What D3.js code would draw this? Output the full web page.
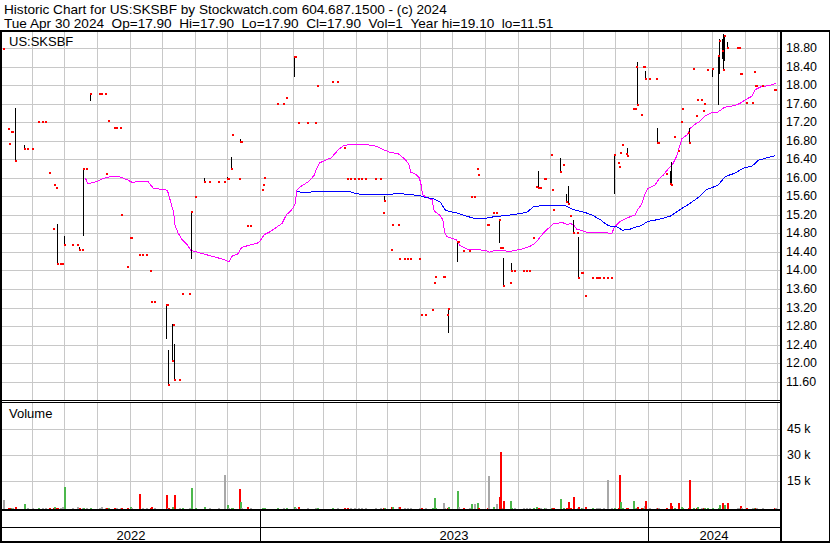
<!DOCTYPE html>
<html><head><meta charset="utf-8">
<script src="https://cdn.jsdelivr.net/npm/d3@7"></script>
<style>
body{margin:0;background:#fff}
svg{display:block;font-family:"Liberation Sans",Arial,sans-serif}
</style>
</head><body>
<svg id="chart" width="830" height="543"></svg>
<script>
const titleLine1 = "Historic Chart for US:SKSBF by Stockwatch.com 604.687.1500 - (c) 2024";
const titleLine2 = "Tue Apr 30 2024  Op=17.90  Hi=17.90  Lo=17.90  Cl=17.90  Vol=1  Year hi=19.10  lo=11.51";
const symbolLabel = "US:SKSBF";
const volumeLabel = "Volume";
const priceTicks = [11.60,12.00,12.40,12.80,13.20,13.60,14.00,14.40,14.80,15.20,15.60,16.00,16.40,16.80,17.20,17.60,18.00,18.40,18.80];
const volumeTicks = [15000,30000,45000];
const volumeTickLabels = ["15 k","30 k","45 k"];
const yearLabels = ["2022","2023","2024"];

// daily trades: date, close, volume
const dates = [
"2022-05-04","2022-05-09","2022-05-10","2022-05-12","2022-05-13","2022-05-16","2022-05-24","2022-05-27","2022-06-01","2022-06-06",
"2022-06-10","2022-06-13","2022-06-17","2022-06-20","2022-06-21","2022-06-23","2022-06-24","2022-06-27","2022-06-29","2022-07-01",
"2022-07-08","2022-07-13","2022-07-15","2022-07-18","2022-07-19","2022-07-21","2022-07-25","2022-08-03","2022-08-05","2022-08-08",
"2022-08-09","2022-08-11","2022-08-17","2022-08-19","2022-08-22","2022-08-23","2022-08-29","2022-09-01","2022-09-02","2022-09-09",
"2022-09-12","2022-09-16","2022-09-20","2022-09-21","2022-09-23","2022-10-05","2022-10-06","2022-10-07","2022-10-10","2022-10-11",
"2022-10-12","2022-10-17","2022-10-20","2022-10-26","2022-10-28","2022-11-01","2022-11-09","2022-11-14","2022-11-23","2022-11-28",
"2022-12-01","2022-12-02","2022-12-05","2022-12-06","2022-12-12","2022-12-13","2022-12-14","2022-12-20","2022-12-23","2023-01-03",
"2023-01-04","2023-01-05","2023-01-17","2023-01-23","2023-01-26","2023-02-02","2023-02-03","2023-02-06","2023-02-14","2023-02-22",
"2023-02-24","2023-03-10","2023-03-15","2023-03-21","2023-03-24","2023-03-27","2023-03-31","2023-04-03","2023-04-06","2023-04-10",
"2023-04-19","2023-04-24","2023-04-27","2023-04-28","2023-05-04","2023-05-05","2023-05-11","2023-05-12","2023-05-17","2023-05-19",
"2023-05-22","2023-05-31","2023-06-02","2023-06-05","2023-06-12","2023-06-14","2023-06-15","2023-06-22","2023-06-23","2023-06-26",
"2023-06-27","2023-07-05","2023-07-06","2023-07-11","2023-07-17","2023-07-19","2023-07-21","2023-07-24","2023-07-25","2023-08-03",
"2023-08-04","2023-08-08","2023-08-11","2023-08-14","2023-08-15","2023-08-17","2023-08-18","2023-08-24","2023-08-25","2023-08-28",
"2023-09-06","2023-09-08","2023-09-11","2023-09-15","2023-09-18","2023-09-20","2023-09-22","2023-09-25","2023-09-26","2023-10-02",
"2023-10-03","2023-10-04","2023-10-10","2023-10-13","2023-10-16","2023-10-18","2023-10-20","2023-10-23","2023-10-26","2023-10-27",
"2023-10-30","2023-10-31","2023-11-03","2023-11-09","2023-11-13","2023-11-15","2023-11-16","2023-11-20","2023-11-24","2023-11-27",
"2023-11-30","2023-12-04","2023-12-05","2023-12-06","2023-12-08","2023-12-11","2023-12-12","2023-12-18","2023-12-20","2023-12-21",
"2023-12-22","2023-12-26","2023-12-27","2023-12-28","2023-12-29","2024-01-02","2024-01-09","2024-01-10","2024-01-11","2024-01-18",
"2024-01-22","2024-01-23","2024-01-26","2024-01-29","2024-02-01","2024-02-02","2024-02-08","2024-02-09","2024-02-12","2024-02-15",
"2024-02-16","2024-02-20","2024-02-22","2024-02-23","2024-02-26","2024-03-01","2024-03-07","2024-03-08","2024-03-11","2024-03-12",
"2024-03-13","2024-03-15","2024-03-25","2024-03-27","2024-03-28","2024-03-29","2024-04-02","2024-04-08","2024-04-10","2024-04-11",
"2024-04-12","2024-04-17","2024-04-29","2024-04-30"];
const closes = [
18.77,17.05,16.73,16.99,16.99,16.37,16.63,16.63,16.63,17.20,
17.20,17.20,16.10,14.90,15.84,15.77,14.15,14.15,14.15,14.55,
14.55,14.55,14.44,14.44,16.19,16.19,17.81,17.81,17.81,17.81,
16.08,17.23,17.07,17.07,17.07,15.20,14.08,14.70,14.70,14.34,
14.34,14.34,13.99,13.33,13.33,13.26,13.26,11.52,12.05,12.82,
11.64,11.64,13.49,13.49,15.26,15.59,15.91,15.91,15.91,15.91,
15.97,15.97,16.19,16.92,15.97,16.77,16.77,14.96,14.96,15.74,
15.84,15.99,17.59,17.59,17.72,18.61,18.61,17.18,17.18,17.18,
17.98,18.07,18.07,16.64,15.97,15.97,15.97,15.97,15.97,15.97,
15.97,15.97,15.24,15.50,14.44,14.98,14.98,14.25,14.25,14.25,
14.25,14.25,13.04,13.04,13.15,13.73,13.85,13.85,13.85,13.04,
13.17,14.61,14.61,14.42,14.42,15.59,15.59,16.19,16.06,14.99,
14.99,15.24,15.24,15.09,14.49,14.49,13.67,13.73,13.99,13.99,
13.99,13.99,13.99,14.70,15.80,15.78,15.78,15.97,15.97,16.49,
15.74,15.30,16.12,16.28,15.48,15.43,15.18,14.81,14.81,13.84,
13.95,13.95,13.45,13.84,13.84,13.84,13.84,13.84,13.84,13.84,
16.49,16.32,16.23,16.53,16.71,16.52,16.48,17.48,17.48,18.38,
17.56,17.36,18.39,18.39,18.13,18.13,18.13,16.75,16.75,16.09,
15.87,15.84,16.88,16.58,17.20,17.48,16.97,16.75,18.35,17.33,
17.68,17.68,17.44,17.59,18.33,18.35,18.63,18.96,18.73,18.33,
19.05,18.79,18.79,18.79,18.24,18.24,17.62,17.62,18.29,17.97,
17.97,17.97,17.90,17.90];
const volumes = [
4500,100,100,100,100,400,2400,100,100,100,
100,100,200,100,600,300,100,100,600,12300,
100,600,100,100,300,100,100,100,600,100,
200,200,100,100,100,200,200,400,100,8200,
100,100,200,600,100,7600,100,100,400,600,
7600,100,200,100,11700,200,600,100,100,19200,
1800,200,200,200,11100,3500,100,600,100,100,
100,100,100,100,100,400,100,600,100,100,
100,100,100,200,100,100,100,100,100,100,
100,100,100,100,600,400,600,600,100,100,
100,100,100,100,200,5900,200,3000,100,200,
600,9900,400,200,100,2300,2300,3000,100,200,
18700,600,2300,6500,32600,100,4100,4100,100,100,
100,100,100,200,600,200,100,100,100,100,
200,200,5300,200,200,3500,100,6500,100,800,
100,100,600,100,100,100,100,100,16300,100,
200,100,19200,3500,100,100,200,4100,100,100,
400,200,100,1500,4100,100,100,100,100,200,
3000,1100,200,3000,600,100,100,16300,100,200,
600,100,200,100,100,200,100,2000,3000,100,
2000,3000,100,100,1100,100,100,100,100,100,
100,100,100,1];

// days with a high-low range
const rangeDates = ["2022-05-16","2022-05-24","2022-06-24","2022-07-01","2022-07-15","2022-07-19","2022-07-25","2022-10-05","2022-10-07","2022-10-10",
"2022-10-12","2022-10-28","2022-11-09","2022-12-01","2022-12-05","2022-12-13","2023-02-02","2023-04-28","2023-06-27","2023-07-05",
"2023-08-14","2023-08-18","2023-08-25","2023-09-20","2023-10-10","2023-10-16","2023-10-18","2023-10-23","2023-10-27","2023-11-30",
"2023-12-06","2023-12-12","2023-12-22","2023-12-29","2024-01-10","2024-01-22","2024-01-23","2024-02-09","2024-03-01","2024-03-07",
"2024-03-08","2024-03-11","2024-03-12","2024-03-13","2024-03-15"];
const rangeHighs = [17.50,16.70,15.00,14.74,14.50,16.20,17.82,13.28,12.28,12.84,
12.41,15.27,15.99,16.01,16.45,16.83,18.62,15.61,13.18,14.64,
15.10,14.26,14.16,16.15,16.42,15.65,15.82,15.09,14.72,16.51,
16.55,16.64,18.49,18.30,17.07,16.14,16.35,17.07,18.36,18.63,
19.00,18.99,19.10,19.06,18.92];
const rangeLows = [16.37,16.63,14.15,14.55,14.44,14.75,17.66,12.53,11.51,12.05,
11.64,14.25,15.91,15.97,16.19,16.77,18.18,15.50,12.66,14.19,
14.60,13.67,13.99,15.78,16.12,15.47,15.43,14.81,13.83,15.66,
16.52,16.48,17.56,18.13,16.75,15.87,15.84,16.75,18.18,17.57,
18.24,18.57,18.34,18.51,18.79];

// short moving average (magenta)
const maShortDates = ["2022-07-21","2022-07-23","2022-07-27","2022-08-01","2022-08-07","2022-08-15","2022-08-22","2022-08-29","2022-09-03","2022-09-12",
"2022-09-18","2022-09-23","2022-10-01","2022-10-06","2022-10-09","2022-10-12","2022-10-13","2022-10-16","2022-10-20","2022-10-25",
"2022-10-28","2022-11-01","2022-11-10","2022-11-20","2022-11-29","2022-12-03","2022-12-06","2022-12-11","2022-12-15","2022-12-23",
"2022-12-31","2023-01-05","2023-01-10","2023-01-16","2023-01-22","2023-01-26","2023-01-31","2023-02-03","2023-02-05","2023-02-09",
"2023-02-16","2023-02-21","2023-02-23","2023-02-26","2023-03-04","2023-03-09","2023-03-13","2023-03-16","2023-03-21","2023-03-30",
"2023-04-13","2023-04-21","2023-04-27","2023-05-03","2023-05-11","2023-05-17","2023-05-21","2023-05-23","2023-05-28","2023-05-31",
"2023-06-02","2023-06-03","2023-06-07","2023-06-12","2023-06-14","2023-06-19","2023-06-22","2023-06-24","2023-06-26","2023-07-05",
"2023-07-08","2023-07-15","2023-07-24","2023-08-02","2023-08-05","2023-08-09","2023-08-18","2023-08-23","2023-08-29","2023-09-06",
"2023-09-12","2023-09-17","2023-09-21","2023-09-26","2023-09-30","2023-10-04","2023-10-07","2023-10-13","2023-10-17","2023-10-20",
"2023-10-23","2023-10-26","2023-10-30","2023-11-03","2023-11-19","2023-11-28","2023-12-01","2023-12-06","2023-12-12","2023-12-20",
"2023-12-23","2023-12-26","2023-12-29","2024-01-01","2024-01-08","2024-01-11","2024-01-16","2024-01-19","2024-01-24","2024-01-28",
"2024-02-02","2024-02-07","2024-02-10","2024-02-14","2024-02-19","2024-02-24","2024-03-01","2024-03-07","2024-03-13","2024-03-23",
"2024-03-28","2024-04-03","2024-04-08","2024-04-11","2024-04-17","2024-04-25","2024-04-30"];
const maShortValues = [15.99,15.87,15.89,15.92,15.99,16.03,16.02,15.96,15.90,15.93,
15.91,15.77,15.75,15.73,15.49,15.24,14.99,14.81,14.66,14.55,
14.43,14.41,14.35,14.29,14.23,14.18,14.31,14.35,14.50,14.55,
14.60,14.77,14.83,14.92,15.02,15.20,15.31,15.42,15.74,15.82,
15.92,16.05,16.18,16.32,16.38,16.43,16.53,16.61,16.70,16.72,
16.71,16.68,16.61,16.55,16.52,16.41,16.30,16.12,16.07,16.00,
15.82,15.64,15.57,15.53,15.28,15.20,15.10,14.81,14.73,14.66,
14.54,14.46,14.45,14.43,14.39,14.43,14.43,14.41,14.43,14.47,
14.52,14.59,14.70,14.84,14.92,15.01,15.02,15.03,14.99,15.01,
14.99,14.89,14.87,14.83,14.82,14.80,14.95,15.06,15.13,15.20,
15.33,15.42,15.64,15.77,15.85,15.96,16.07,16.16,16.28,16.46,
16.84,16.93,17.07,17.15,17.22,17.34,17.40,17.42,17.52,17.56,
17.61,17.70,17.76,17.90,17.97,17.99,18.04];

// long moving average (blue)
const maLongDates = ["2023-02-05","2023-02-09","2023-02-16","2023-03-03","2023-03-25","2023-04-01","2023-04-07","2023-05-03","2023-05-10","2023-05-22",
"2023-06-01","2023-06-07","2023-06-13","2023-06-20","2023-06-24","2023-06-29","2023-07-07","2023-07-13","2023-07-21","2023-08-02",
"2023-08-12","2023-08-20","2023-08-31","2023-09-09","2023-09-15","2023-09-25","2023-10-07","2023-10-15","2023-10-23","2023-10-29",
"2023-11-03","2023-11-09","2023-11-17","2023-11-23","2023-11-28","2023-12-03","2023-12-08","2023-12-14","2023-12-20","2023-12-26",
"2024-01-01","2024-01-11","2024-01-22","2024-01-31","2024-02-05","2024-02-11","2024-02-19","2024-02-25","2024-03-07","2024-03-14",
"2024-03-23","2024-03-31","2024-04-08","2024-04-14","2024-04-22","2024-04-30"];
const maLongValues = [15.70,15.69,15.69,15.71,15.71,15.66,15.64,15.64,15.66,15.64,
15.61,15.57,15.55,15.47,15.31,15.27,15.23,15.18,15.13,15.13,
15.17,15.18,15.22,15.25,15.37,15.41,15.41,15.40,15.31,15.28,
15.25,15.20,15.10,14.99,14.94,14.94,14.87,14.88,14.93,14.97,
15.06,15.10,15.17,15.31,15.38,15.47,15.60,15.74,15.84,16.03,
16.10,16.21,16.25,16.38,16.43,16.48];

const parse = d3.timeParse("%Y-%m-%d");
const svg = d3.select("#chart");
const L = 2, R = 780;            // plot left / right
const PT = 32, PB = 399.5;       // price panel
const VT = 403, VB = 509;        // volume panel

const x = d3.scaleTime().domain([parse("2022-05-01"), parse("2024-05-01")]).range([-0.6, 776.5]);
const y = d3.scaleLinear().domain([11.6, 18.8]).range([381.7, 48]);
const yv = d3.scaleLinear().domain([0, 45000]).range([506.6, 428.7]);

svg.append("rect").attr("width", 830).attr("height", 543).attr("fill", "#fff");

// header (keep the double spaces of the original)
const keepSpaces = s => s.replace(/  /g, " \u00a0");
svg.append("text").attr("x", 4).attr("y", 14).attr("font-size", 13.6).attr("fill", "#000").text(titleLine1);
svg.append("text").attr("x", 4).attr("y", 27.5).attr("font-size", 13.6).attr("fill", "#000").text(keepSpaces(titleLine2));

const months = d3.timeMonth.range(parse("2022-06-01"), parse("2024-05-02"));
const grid = svg.append("g").attr("stroke", "#c8c8c8").attr("stroke-width", 1).attr("shape-rendering", "crispEdges");
// price grid
grid.selectAll(".hp").data(priceTicks).join("line")
  .attr("x1", L).attr("x2", R).attr("y1", d => Math.round(y(d)) + 0.5).attr("y2", d => Math.round(y(d)) + 0.5);
grid.selectAll(".vp").data(months).join("line")
  .attr("x1", d => Math.round(x(d)) + 0.5).attr("x2", d => Math.round(x(d)) + 0.5).attr("y1", PT).attr("y2", PB);
// volume grid
const gv = svg.append("g").attr("stroke", "#c8c8c8").attr("stroke-width", 1).attr("shape-rendering", "crispEdges");
gv.selectAll("line.h").data(volumeTicks).join("line").attr("class", "h")
  .attr("x1", L).attr("x2", R).attr("y1", d => Math.round(yv(d)) + 0.5).attr("y2", d => Math.round(yv(d)) + 0.5);
gv.selectAll("line.v").data(months).join("line").attr("class", "v")
  .attr("x1", d => Math.round(x(d)) + 0.5).attr("x2", d => Math.round(x(d)) + 0.5).attr("y1", VT).attr("y2", VB);

// clip for price panel
svg.append("clipPath").attr("id", "pclip").append("rect").attr("x", L).attr("y", PT).attr("width", R - L).attr("height", PB - PT);
const pg = svg.append("g").attr("clip-path", "url(#pclip)");

svg.append("text").attr("x", 9).attr("y", 45.5).attr("font-size", 13).attr("fill", "#000").text(symbolLabel);

// moving averages
const lineGen = d3.line().x(d => x(d[0])).y(d => y(d[1]));
pg.append("path").datum(maShortDates.map((d, i) => [parse(d), maShortValues[i]]))
  .attr("d", lineGen).attr("fill", "none").attr("stroke", "#ff00ff").attr("stroke-width", 1).attr("shape-rendering", "crispEdges");
pg.append("path").datum(maLongDates.map((d, i) => [parse(d), maLongValues[i]]))
  .attr("d", lineGen).attr("fill", "none").attr("stroke", "#0000ff").attr("stroke-width", 1).attr("shape-rendering", "crispEdges");

// high-low bars
pg.selectAll("rect.bar").data(rangeDates.map((d, i) => ({ d: parse(d), h: rangeHighs[i], l: rangeLows[i] })))
  .join("rect").attr("class", "bar")
  .attr("x", d => Math.round(x(d.d))).attr("width", 1)
  .attr("y", d => Math.round(y(d.h))).attr("height", d => Math.max(1, Math.round(y(d.l)) - Math.round(y(d.h))))
  .attr("fill", "#000").attr("shape-rendering", "crispEdges");
// close ticks
pg.selectAll("rect.cl").data(dates.map((d, i) => ({ d: parse(d), c: closes[i] })))
  .join("rect").attr("class", "cl")
  .attr("x", d => Math.round(x(d.d))).attr("width", 2)
  .attr("y", d => Math.round(y(d.c)) - 1).attr("height", 2)
  .attr("fill", "#ff0000").attr("shape-rendering", "crispEdges");

// volume bars
const volData = dates.map((d, i) => ({
  d: parse(d), v: volumes[i],
  dir: i === 0 ? 0 : Math.sign(Math.round(closes[i] * 100) - Math.round(closes[i - 1] * 100))
}));
svg.append("g").selectAll("rect").data(volData).join("rect")
  .attr("x", d => Math.round(x(d.d))).attr("width", 2)
  .attr("y", d => Math.min(yv(d.v) + 1.5, 507.5))
  .attr("height", d => VB - Math.min(yv(d.v) + 1.5, 507.5))
  .attr("fill", d => d.dir > 0 ? "#4cb84c" : d.dir < 0 ? "#ff0000" : "#a8a8a8")
  .attr("shape-rendering", "crispEdges");

svg.append("text").attr("x", 9).attr("y", 418).attr("font-size", 13).attr("fill", "#000").text(volumeLabel);

// frame lines
const black = (xx, yy, w, h) => svg.append("rect").attr("x", xx).attr("y", yy).attr("width", w).attr("height", h).attr("fill", "#000");
black(0, 30, 830, 2);          // header bottom
black(0, 30, 2, 513);          // left
black(780, 30, 2, 513);        // plot right
black(829, 30, 1, 513);        // outer right
black(0, 400, 780, 1);         // price bottom
black(0, 402, 780, 1);         // volume top
black(0, VB, 780, 2);          // volume bottom
black(0, 527, 780, 1);         // date rows separator
black(0, 541, 830, 2);         // bottom

// year dividers and labels
const yearStarts = d3.timeYear.range(parse("2022-05-02"), parse("2024-05-01"));
yearStarts.forEach(d => black(Math.round(x(d)), VB, 1, 541 - VB));
const bounds = [L, ...yearStarts.map(d => Math.round(x(d))), R];
svg.selectAll("text.yr").data(yearLabels).join("text").attr("class", "yr")
  .attr("x", (d, i) => (bounds[i] + bounds[i + 1]) / 2).attr("y", 539.5)
  .attr("text-anchor", "middle").attr("font-size", 13).attr("fill", "#000").text(d => d);

// right axis labels
svg.selectAll("text.pt").data(priceTicks).join("text").attr("class", "pt")
  .attr("x", 786).attr("y", d => y(d) + 4).attr("font-size", 12.4).attr("fill", "#000").text(d => d.toFixed(2));
svg.selectAll("text.vt").data(volumeTicks).join("text").attr("class", "vt")
  .attr("x", 787).attr("y", d => yv(d) + 4.5).attr("font-size", 12.4).attr("fill", "#000").text((d, i) => volumeTickLabels[i]);
</script>
</body></html>
